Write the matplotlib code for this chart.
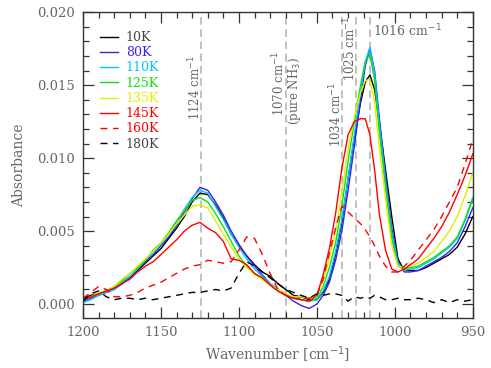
import matplotlib
matplotlib.use("Agg")
import matplotlib.pyplot as plt
from matplotlib.ticker import MultipleLocator

# wavenumber grid [cm^-1]
wn = [1200, 1195, 1190, 1185, 1180, 1175, 1170, 1165, 1160, 1155,
      1150, 1145, 1140, 1135, 1130, 1125, 1120, 1115, 1110, 1105,
      1100, 1095, 1090, 1085, 1080, 1075, 1070, 1065, 1060, 1055,
      1050, 1046, 1042, 1038, 1034, 1030, 1026, 1022, 1019, 1016,
      1013, 1010, 1006, 1002, 998, 994, 990, 985, 980, 975,
      970, 965, 960, 955, 950]

a_10k = [0.0004, 0.0006, 0.0007, 0.0009, 0.0011, 0.0014, 0.0018, 0.0023, 0.0028, 0.0033,
         0.0038, 0.0045, 0.0052, 0.0060, 0.0070, 0.0076, 0.0075, 0.0068, 0.0059, 0.0048,
         0.0040, 0.0033, 0.0027, 0.0022, 0.0019, 0.0014, 0.0010, 0.0006, 0.0005, 0.0003,
         0.0003, 0.0008, 0.0017, 0.0034, 0.0056, 0.0086, 0.0114, 0.0138, 0.0152, 0.0157,
         0.0147, 0.0125, 0.0092, 0.0060, 0.0031, 0.0023, 0.0023, 0.0023, 0.0025, 0.0028,
         0.0031, 0.0034, 0.0039, 0.0048, 0.0060]

a_80k = [0.0002, 0.0004, 0.0006, 0.0008, 0.0010, 0.0014, 0.0018, 0.0024, 0.0029, 0.0034,
         0.0040, 0.0046, 0.0054, 0.0063, 0.0072, 0.0080, 0.0078, 0.0070, 0.0061, 0.0050,
         0.0041, 0.0033, 0.0026, 0.0020, 0.0014, 0.0010, 0.0006, 0.0002, -0.0001, -0.0003,
         0.0000, 0.0006, 0.0015, 0.0030, 0.0050, 0.0078, 0.0108, 0.0140, 0.0163, 0.0175,
         0.0160, 0.0128, 0.0088, 0.0052, 0.0029, 0.0022, 0.0022, 0.0023, 0.0026, 0.0029,
         0.0032, 0.0036, 0.0042, 0.0053, 0.0066]

a_110k = [0.0001, 0.0003, 0.0006, 0.0008, 0.0010, 0.0015, 0.0019, 0.0024, 0.0030, 0.0035,
          0.0041, 0.0048, 0.0056, 0.0065, 0.0073, 0.0078, 0.0076, 0.0067, 0.0058, 0.0048,
          0.0039, 0.0031, 0.0024, 0.0019, 0.0014, 0.0010, 0.0007, 0.0004, 0.0003, 0.0002,
          0.0003, 0.0009, 0.0019, 0.0036, 0.0058, 0.0086, 0.0116, 0.0146, 0.0166, 0.0176,
          0.0158, 0.0124, 0.0084, 0.0049, 0.0028, 0.0023, 0.0024, 0.0025, 0.0028, 0.0031,
          0.0035, 0.0039, 0.0045, 0.0057, 0.0072]

a_125k = [0.0003, 0.0005, 0.0007, 0.0009, 0.0012, 0.0016, 0.0021, 0.0025, 0.0030, 0.0037,
          0.0042, 0.0049, 0.0057, 0.0064, 0.0071, 0.0073, 0.0070, 0.0062, 0.0053, 0.0043,
          0.0033, 0.0026, 0.0021, 0.0017, 0.0013, 0.0009, 0.0006, 0.0004, 0.0003, 0.0002,
          0.0004, 0.0012, 0.0025, 0.0042, 0.0067, 0.0098, 0.0125, 0.0150, 0.0166, 0.0171,
          0.0153, 0.0118, 0.0080, 0.0045, 0.0026, 0.0024, 0.0025, 0.0026, 0.0029, 0.0032,
          0.0036, 0.0040, 0.0046, 0.0058, 0.0073]

a_135k = [0.0003, 0.0005, 0.0008, 0.0009, 0.0012, 0.0017, 0.0021, 0.0026, 0.0031, 0.0036,
          0.0042, 0.0048, 0.0055, 0.0061, 0.0067, 0.0068, 0.0066, 0.0057, 0.0048, 0.0039,
          0.0031, 0.0025, 0.0020, 0.0017, 0.0013, 0.0010, 0.0007, 0.0005, 0.0005, 0.0004,
          0.0007, 0.0016, 0.0031, 0.0050, 0.0077, 0.0106, 0.0128, 0.0145, 0.0153, 0.0154,
          0.0138, 0.0108, 0.0072, 0.0040, 0.0026, 0.0025, 0.0026, 0.0028, 0.0032, 0.0036,
          0.0043, 0.0050, 0.0060, 0.0074, 0.0090]

a_145k = [0.0003, 0.0005, 0.0007, 0.0009, 0.0011, 0.0014, 0.0017, 0.0022, 0.0026, 0.0029,
          0.0034, 0.0039, 0.0044, 0.0050, 0.0054, 0.0056, 0.0052, 0.0049, 0.0043, 0.0031,
          0.0030, 0.0027, 0.0021, 0.0018, 0.0013, 0.0009, 0.0006, 0.0004, 0.0003, 0.0002,
          0.0006, 0.0020, 0.0038, 0.0062, 0.0093, 0.0116, 0.0125, 0.0127, 0.0127, 0.0116,
          0.0092, 0.0062, 0.0037, 0.0024, 0.0022, 0.0024, 0.0027, 0.0031, 0.0038, 0.0045,
          0.0053, 0.0063, 0.0075, 0.0088, 0.0103]

a_160k = [0.0004, 0.0008, 0.0012, 0.0010, 0.0005, 0.0005, 0.0006, 0.0008, 0.0011, 0.0013,
          0.0015, 0.0018, 0.0021, 0.0024, 0.0026, 0.0027, 0.0030, 0.0029, 0.0028, 0.0029,
          0.0037, 0.0046, 0.0045, 0.0034, 0.0021, 0.0010, 0.0006, 0.0004, 0.0004, 0.0004,
          0.0006, 0.0017, 0.0035, 0.0052, 0.0067, 0.0063, 0.0059, 0.0055, 0.0051, 0.0046,
          0.0040, 0.0033, 0.0026, 0.0022, 0.0022, 0.0026, 0.0030, 0.0037, 0.0044, 0.0051,
          0.0060, 0.0070, 0.0080, 0.0096, 0.0113]

a_180k = [0.0002, 0.0007, 0.0009, 0.0005, 0.0003, 0.0004, 0.0004, 0.0003, 0.0004, 0.0003,
          0.0004, 0.0005, 0.0006, 0.0007, 0.0008, 0.0008, 0.0009, 0.0010, 0.0009, 0.0011,
          0.0021, 0.0029, 0.0026, 0.0022, 0.0018, 0.0014, 0.0010, 0.0008, 0.0006, 0.0004,
          0.0007, 0.0006, 0.0007, 0.0007, 0.0006, 0.0002, 0.0005, 0.0004, 0.0005, 0.0004,
          0.0006, 0.0005, 0.0003, 0.0003, 0.0004, 0.0003, 0.0003, 0.0004, 0.0003, 0.0001,
          0.0003, 0.0001, 0.0003, 0.0002, 0.0003]

labels = ["10K", "80K", "110K", "125K", "135K", "145K", "160K", "180K"]
series = [a_10k, a_80k, a_110k, a_125k, a_135k, a_145k, a_160k, a_180k]
colors = ["black", "#3c1ef2", "#00c4ff", "#10e010", "#e2ee00", "#ff0000", "#ff0000", "black"]
styles = ["-", "-", "-", "-", "-", "-", "--", "--"]

# marked band positions
bands = [1124, 1070, 1034, 1025, 1016]

plt.rcParams['font.family'] = ['DejaVu Serif']
txt = "#666666"

fig = plt.figure(figsize=(4.91, 3.68), dpi=100)
ax = fig.add_axes([0.169, 0.136, 0.794, 0.831])

for b in bands:
    ax.axvline(b, color="#b0b0b0", ls=(0, (5, 3)), lw=1.1, zorder=1)

for y, lab, c, ls in zip(series, labels, colors, styles):
    ax.plot(wn, y, color=c, ls=ls, lw=1.0, label=lab, zorder=2,
            dashes=(5, 4) if ls == "--" else (None, None))

ax.set_xlim(1200, 950)
ax.set_ylim(-0.00095, 0.020)
ax.xaxis.set_major_locator(MultipleLocator(50))
ax.xaxis.set_minor_locator(MultipleLocator(10))
ax.yaxis.set_major_locator(MultipleLocator(0.005))
ax.yaxis.set_minor_locator(MultipleLocator(0.001))
ax.yaxis.set_major_formatter(matplotlib.ticker.FormatStrFormatter("%.3f"))
ax.tick_params(which="both", direction="in", top=True, right=True,
               labelsize=9.5, labelcolor=txt, color="#333333")
ax.tick_params(which="major", length=8, width=0.9, pad=6)
ax.tick_params(which="minor", length=4, width=0.9)
for s in ax.spines.values():
    s.set_color("#333333")
    s.set_linewidth(1.0)

ax.set_xlabel("Wavenumber [cm$^{-1}$]", fontsize=10, color=txt, labelpad=4)
ax.set_ylabel("Absorbance", fontsize=10, color=txt, labelpad=8)

ann = dict(fontsize=8.5, color=txt, rotation=90, ha="center", va="center")
ax.text(1128, 0.0148, "1124 cm$^{-1}$", **ann)
ax.text(1074.5, 0.0151, "1070 cm$^{-1}$", **ann)
ax.text(1064.5, 0.0146, "(pure NH$_3$)", **ann)
ax.text(1038, 0.0130, "1034 cm$^{-1}$", **ann)
ax.text(1029, 0.0175, "1025 cm$^{-1}$", **ann)
ax.text(1014, 0.0187, "1016 cm$^{-1}$", fontsize=9, color=txt, ha="left", va="center")

leg = ax.legend(loc="upper left", bbox_to_anchor=(0.03, 0.955), frameon=False,
                fontsize=9, handlelength=1.5, handletextpad=0.6, labelspacing=0.18,
                borderaxespad=0)
for t, c in zip(leg.get_texts(), colors):
    t.set_color("#444444" if c == "black" else c)

fig.savefig("out.png", dpi=100)
